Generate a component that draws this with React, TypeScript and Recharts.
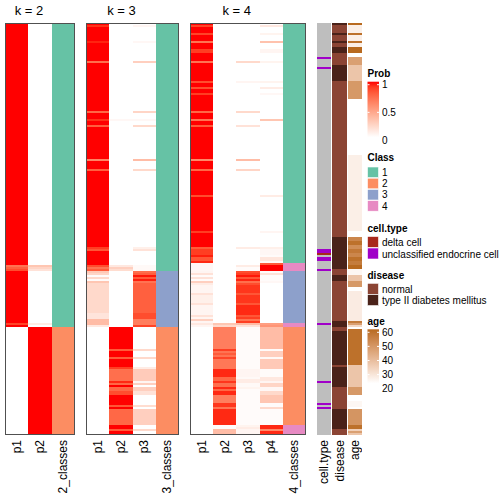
import { BarChart, Bar, XAxis, YAxis, Cell } from 'recharts'

const FONT = '"Liberation Sans", Arial, sans-serif'
const N_ROWS = 206
const TOP = 23
const BODY_H = 412
const AXIS_H = 68

// each step: [first row, value]; the value holds until the next step
type Step = [number, number | null]

// ---- k = 2
const k2P1: Step[] = [[0, 1], [121, 0.7], [122, 0.78], [123, 0.85], [124, 1], [150, 0.88], [151, 1], [152, 0]]
const k2P2: Step[] = [[0, 0], [121, 0.3], [122, 0.22], [123, 0.15], [124, 0], [150, 0.1], [151, 0], [152, 1]]
const k2Class: Step[] = [[0, 1], [152, 2]]

// ---- k = 3
const k3P1: Step[] = [
  [0, 1], [1, 0.93], [2, 1], [9, 0.96], [10, 1], [19, 0.72], [20, 1], [44, 0.75], [45, 1], [48, 0.93], [49, 1],
  [51, 0.78], [52, 1], [68, 0.62], [69, 1], [73, 0.78], [74, 1], [112, 0.9], [113, 0.82], [114, 1],
  [121, 0.85], [122, 0.7], [123, 0.8], [124, 0.28], [125, 0.22], [126, 0.02], [127, 0.2], [128, 0.02],
  [129, 0.3], [130, 0.2], [145, 0.14], [148, 0.35], [151, 0.12], [152, 0],
]
const k3P2: Step[] = [
  [0, 0], [48, 0.04], [49, 0], [121, 0.12], [122, 0.25], [123, 0.18], [124, 0],
  [152, 1], [163, 0.8], [164, 1], [167, 0.8], [168, 1], [172, 0.9], [173, 0.72], [179, 0.95], [180, 0.75],
  [181, 1], [182, 0.75], [184, 0.85], [186, 1], [191, 0.82], [192, 1], [193, 0.75], [201, 1], [203, 0.8], [204, 1],
]
const k3P3: Step[] = [
  [0, 0], [1, 0.05], [2, 0], [9, 0.04], [10, 0], [19, 0.25], [20, 0], [44, 0.22], [45, 0], [48, 0.04], [49, 0],
  [51, 0.2], [52, 0], [68, 0.35], [69, 0], [73, 0.2], [74, 0], [112, 0.08], [113, 0.15], [114, 0], [121, 0.03],
  [124, 0.72], [125, 0.78], [126, 0.98], [127, 0.8], [128, 0.97], [129, 0.7], [130, 0.78], [145, 0.85],
  [148, 0.65], [151, 0.88], [152, 0], [163, 0.2], [164, 0], [167, 0.2], [168, 0], [172, 0.1], [173, 0.27],
  [179, 0.05], [180, 0.25], [181, 0], [182, 0.25], [184, 0.15], [186, 0], [191, 0.18], [192, 0], [193, 0.25],
  [201, 0], [203, 0.2], [204, 0],
]
const k3Class: Step[] = [[0, 1], [124, 3], [152, 2]]

// ---- k = 4
const k4P1: Step[] = [
  [0, 1], [1, 0.88], [2, 1], [5, 0.88], [6, 1], [9, 0.7], [10, 1], [13, 0.9], [15, 1], [19, 0.7], [20, 1],
  [29, 0.85], [30, 1], [32, 0.85], [33, 1], [35, 0.9], [36, 1], [44, 0.75], [45, 1], [48, 0.7], [49, 1],
  [51, 0.8], [52, 1], [68, 0.6], [69, 1], [73, 0.75], [74, 1], [86, 0.85], [87, 1], [104, 0.9], [105, 1],
  [112, 0.8], [113, 0.9], [116, 0.97], [117, 0.82], [119, 0.95], [120, 0.04], [124, 0.05], [125, 0.15],
  [126, 0.02], [127, 0.15], [128, 0.02], [129, 0.25], [130, 0.1], [131, 0.05], [135, 0.15], [136, 0.08],
  [140, 0.15], [141, 0.05], [146, 0.15], [147, 0.05], [148, 0.25], [149, 0.05], [150, 0.12], [151, 0.05], [152, 0],
]
const k4P2: Step[] = [
  [0, 0], [150, 0.3], [151, 0.2], [152, 0.65], [163, 0.9], [164, 0.7], [165, 0.8], [166, 0.7], [167, 0.88],
  [168, 0.68], [173, 0.95], [177, 0.75], [179, 0.92], [180, 0.72], [182, 0.95], [183, 0.75], [184, 0.95],
  [186, 0.65], [190, 0.92], [192, 0.7], [193, 0.95], [201, 0.02], [203, 0.35],
]
const k4P3: Step[] = [
  [0, 0], [19, 0.2], [20, 0], [29, 0.05], [30, 0], [44, 0.2], [45, 0], [51, 0.15], [52, 0], [68, 0.35], [69, 0],
  [73, 0.22], [74, 0], [112, 0.1], [113, 0], [121, 0.1], [122, 0.02], [124, 0.85], [125, 0.9], [126, 0.98],
  [127, 0.82], [128, 0.96], [129, 0.72], [130, 0.85], [131, 0.92], [135, 0.82], [136, 0.92], [140, 0.82],
  [141, 0.95], [146, 0.82], [147, 0.9], [148, 0.7], [149, 0.9], [150, 0.35], [151, 0.15], [152, 0.02],
  [173, 0.05], [177, 0.03], [178, 0.1], [180, 0.03], [182, 0.06], [183, 0.02], [201, 0.06], [202, 0.1], [203, 0.05],
]
const k4P4: Step[] = [
  [0, 0], [1, 0.12], [2, 0], [5, 0.06], [6, 0], [9, 0.32], [10, 0], [13, 0.05], [15, 0], [19, 0.06], [20, 0],
  [29, 0.06], [30, 0], [32, 0.1], [33, 0], [35, 0.04], [36, 0], [48, 0.3], [49, 0], [86, 0.1], [87, 0],
  [104, 0.05], [105, 0], [112, 0.08], [113, 0.04], [116, 0.02], [117, 0.13], [119, 0.03], [120, 0.8], [121, 1],
  [124, 0.02], [125, 0.15], [126, 0.02], [129, 0.04], [130, 0], [150, 0.5], [151, 0.55], [152, 0.35],
  [163, 0.02], [164, 0.25], [167, 0.03], [168, 0.28], [173, 0.02], [177, 0.12], [179, 0.05], [180, 0.22],
  [182, 0.04], [184, 0.2], [186, 0.3], [190, 0.02], [192, 0.2], [193, 0.02], [201, 0.95], [203, 0.6], [204, 0.95],
]
const k4Class: Step[] = [[0, 1], [120, 4], [124, 3], [150, 4], [152, 2], [201, 4]]

// ---- annotations
// cell.type: 0 = other (grey), 1 = delta cell, 2 = unclassified endocrine cell
const cellType: Step[] = [
  [0, 0], [17, 2], [18, 0], [22, 2], [23, 0], [113, 2], [115, 1], [116, 0], [117, 2], [119, 0],
  [123, 2], [124, 0], [150, 2], [151, 0], [179, 2], [180, 0], [190, 2], [191, 0], [192, 2], [193, 0],
]
// disease: 0 = normal, 1 = type II diabetes mellitus
const disease: Step[] = [
  [0, 1], [1, 0], [5, 1], [6, 0], [9, 1], [10, 0], [12, 1], [15, 0], [21, 1], [29, 0], [107, 1], [123, 0],
  [126, 1], [129, 0], [149, 1], [152, 0], [154, 1], [171, 0], [172, 1], [182, 0], [193, 1], [203, 0],
]
const age: Step[] = [
  [0, 60], [1, 24], [5, 58], [6, 24], [9, 58], [10, 24], [12, 60], [15, null], [17, 45], [21, 35], [29, 47],
  [38, null], [66, 24], [104, null], [107, 52], [109, 58], [111, 50], [113, 56], [115, 52], [117, 58],
  [119, 55], [121, 60], [123, 22], [126, 35], [129, 47], [132, null], [134, 25], [149, 55], [150, 45],
  [151, 30], [152, null], [153, 58], [171, 35], [182, 47], [186, null], [189, 22], [192, null], [193, 48],
  [201, 58], [203, 32], [204, 45], [205, 35],
]

const k2Names = ['p1', 'p2', '2_classes']
const k3Names = ['p1', 'p2', 'p3', '3_classes']
const k4Names = ['p1', 'p2', 'p3', 'p4', '4_classes']
const annNames = ['cell.type', 'disease', 'age']
const classLevels = ['1', '2', '3', '4']
const cellTypeLevels = ['delta cell', 'unclassified endocrine cell']
const diseaseLevels = ['normal', 'type II diabetes mellitus']
const probTicks = ['1', '0.5', '0']
const ageTicks = ['60', '50', '40', '30', '20']

const CLASS_COLORS: Record<number, string> = { 1: '#66C2A5', 2: '#FC8D62', 3: '#8DA0CB', 4: '#E78AC3' }
const CELLTYPE_COLORS = ['#BEBEBE', '#A8281C', '#A000C8']
const DISEASE_COLORS = ['#8B4434', '#4A2219']
const AGE_HIGH = '#B86A1F'

function expand(steps: Step[]) {
  const out: (number | null)[] = []
  let j = 0
  for (let r = 0; r < N_ROWS; r++) {
    while (j + 1 < steps.length && steps[j + 1][0] <= r) j++
    out.push(steps[j][1])
  }
  return out
}

// Lab interpolation, like colorRamp2
function toLab(hex: string) {
  const n = parseInt(hex.slice(1), 16)
  const [r, g, b] = [(n >> 16) & 255, (n >> 8) & 255, n & 255].map((c) => {
    c /= 255
    return c <= 0.04045 ? c / 12.92 : Math.pow((c + 0.055) / 1.055, 2.4)
  })
  const f = (t: number) => (t > 0.008856 ? Math.cbrt(t) : 7.787 * t + 16 / 116)
  const fx = f((0.4124 * r + 0.3576 * g + 0.1805 * b) / 0.95047)
  const fy = f(0.2126 * r + 0.7152 * g + 0.0722 * b)
  const fz = f((0.0193 * r + 0.1192 * g + 0.9505 * b) / 1.08883)
  return [116 * fy - 16, 500 * (fx - fy), 200 * (fy - fz)]
}
function fromLab([L, a, b]: number[]) {
  const fy = (L + 16) / 116
  const fx = fy + a / 500
  const fz = fy - b / 200
  const inv = (t: number) => (t * t * t > 0.008856 ? t * t * t : (t - 16 / 116) / 7.787)
  const X = 0.95047 * inv(fx), Y = inv(fy), Z = 1.08883 * inv(fz)
  const lin = [
    3.2406 * X - 1.5372 * Y - 0.4986 * Z,
    -0.9689 * X + 1.8758 * Y + 0.0415 * Z,
    0.0557 * X - 0.204 * Y + 1.057 * Z,
  ]
  const rgb = lin.map((c) => {
    const v = c <= 0.0031308 ? 12.92 * c : 1.055 * Math.pow(c, 1 / 2.4) - 0.055
    return Math.round(Math.min(1, Math.max(0, v)) * 255)
  })
  return `rgb(${rgb.join(',')})`
}
function mixLab(a: string, b: string, t: number) {
  const A = toLab(a), B = toLab(b)
  const k = Math.min(1, Math.max(0, t))
  return fromLab(A.map((v, i) => v + (B[i] - v) * k))
}

const probColor = (v: number | null) => mixLab('#FFFFFF', '#FF0000', v ?? 0)
const classColor = (v: number | null) => CLASS_COLORS[v ?? 1]
const ageColor = (v: number | null) => (v == null ? '#FFFFFF' : mixLab('#FFFFFF', AGE_HIGH, (v - 20) / 40))
const cellTypeColor = (v: number | null) => CELLTYPE_COLORS[v ?? 0]
const diseaseColor = (v: number | null) => DISEASE_COLORS[v ?? 0]
const blank = () => '#FFFFFF'

type Column = { key: string; steps: Step[]; color: (v: number | null) => string; span: number }

function NameTick(props: any) {
  const { x, y, payload, names, ticks } = props
  const i = ticks.indexOf(payload.value)
  const ty = y + 3
  return (
    <text x={x} y={ty} transform={`rotate(-90 ${x} ${ty})`} textAnchor="end" dominantBaseline="central"
      fontSize={12} fontFamily={FONT} fill="#000">
      {names[i]}
    </text>
  )
}

function Strip({ left, width, columns, names }: { left: number; width: number; columns: Column[]; names: string[] }) {
  const total = columns.reduce((s, c) => s + c.span, 0)
  const data = Array.from({ length: N_ROWS }, (_, r) => {
    const row: Record<string, number> = { id: r }
    columns.forEach((c) => (row[c.key] = c.span))
    return row
  })
  const ticks: number[] = []
  let acc = 0
  columns.forEach((c) => {
    if (!c.key.startsWith('gap')) ticks.push(acc + c.span / 2)
    acc += c.span
  })
  return (
    <div style={{ position: 'absolute', left, top: TOP }}>
      <BarChart layout="vertical" width={width} height={BODY_H + AXIS_H} data={data}
        margin={{ top: 0, right: 0, bottom: 0, left: 0 }} barCategoryGap={0} barGap={0}>
        <YAxis type="category" dataKey="id" hide />
        <XAxis type="number" domain={[0, total]} ticks={ticks} interval={0} axisLine={false} tickLine={false}
          tickSize={0} height={AXIS_H} tick={(p: any) => <NameTick {...p} names={names} ticks={ticks} />} />
        {columns.map((c) => {
          const vals = expand(c.steps)
          return (
            <Bar key={c.key} dataKey={c.key} stackId="s" isAnimationActive={false}>
              {vals.map((v, i) => (
                <Cell key={i} fill={c.color(v)} />
              ))}
            </Bar>
          )
        })}
      </BarChart>
    </div>
  )
}

const probCols = (steps: Step[][], cls: Step[]): Column[] => [
  ...steps.map((s, i) => ({ key: `p${i + 1}`, steps: s, color: probColor, span: 1 })),
  { key: 'cls', steps: cls, color: classColor, span: 1 },
]

const annCols: Column[] = [
  { key: 'cell', steps: cellType, color: cellTypeColor, span: 14 },
  { key: 'gap1', steps: [[0, null]], color: blank, span: 1 },
  { key: 'dis', steps: disease, color: diseaseColor, span: 15 },
  { key: 'gap2', steps: [[0, null]], color: blank, span: 1 },
  { key: 'age', steps: age, color: ageColor, span: 14 },
]

const LX = 367.5
const labelProps = { fontSize: 10, fontFamily: FONT, fill: '#000', dominantBaseline: 'central' as const }
const titleProps = { fontSize: 10, fontFamily: FONT, fill: '#000', fontWeight: 'bold' as const }

export default function App() {
  const gradStops = Array.from({ length: 11 }, (_, i) => i / 10)
  return (
    <div style={{ position: 'absolute', left: 0, top: 0, width: 504, height: 504, background: '#fff', overflow: 'hidden' }}>
      <style>{'.recharts-rectangle{shape-rendering:crispEdges}'}</style>
      <Strip left={5} width={70} columns={probCols([k2P1, k2P2], k2Class)} names={k2Names} />
      <Strip left={86} width={93} columns={probCols([k3P1, k3P2, k3P3], k3Class)} names={k3Names} />
      <Strip left={190} width={116} columns={probCols([k4P1, k4P2, k4P3, k4P4], k4Class)} names={k4Names} />
      <Strip left={317} width={45} columns={annCols} names={annNames} />
      <svg width={504} height={504} style={{ position: 'absolute', left: 0, top: 0, pointerEvents: 'none' }}>
        <defs>
          <linearGradient id="probGrad" x1="0" y1="0" x2="0" y2="1">
            {gradStops.map((t) => (
              <stop key={t} offset={t} stopColor={probColor(1 - t)} />
            ))}
          </linearGradient>
          <linearGradient id="ageGrad" x1="0" y1="0" x2="0" y2="1">
            {gradStops.map((t) => (
              <stop key={t} offset={t} stopColor={ageColor(60 - 40 * t)} />
            ))}
          </linearGradient>
        </defs>
        {[['k = 2', 29], ['k = 3', 121.5], ['k = 4', 236.7]].map(([t, x]) => (
          <text key={t as string} x={x as number} y={15} textAnchor="middle" fontSize={13} fontFamily={FONT}>{t}</text>
        ))}
        {[[5, 70], [86, 93], [190, 116]].map(([x, w]) => (
          <rect key={x} x={x + 0.5} y={TOP + 0.5} width={w - 1} height={BODY_H - 1} fill="none" stroke="#505050" strokeWidth={1} />
        ))}

        {/* Prob */}
        <text x={LX} y={77} {...titleProps}>Prob</text>
        <rect x={LX} y={81.7} width={11.5} height={55.6} fill="url(#probGrad)" />
        {probTicks.map((t, i) => {
          const y = 84.7 + i * 27.65
          return (
            <g key={t}>
              {i < 2 && <line x1={LX} x2={LX + 2} y1={y} y2={y} stroke="#fff" />}
              {i < 2 && <line x1={LX + 9.5} x2={LX + 11.5} y1={y} y2={y} stroke="#fff" />}
              <text x={382} y={y} {...labelProps}>{t}</text>
            </g>
          )
        })}

        {/* Class */}
        <text x={LX} y={161} {...titleProps}>Class</text>
        {classLevels.map((c, i) => (
          <g key={c}>
            <rect x={LX} y={167 + i * 11.2} width={11} height={10.6} fill={CLASS_COLORS[i + 1]} stroke="#fff" strokeWidth={0.6} />
            <text x={382} y={172.5 + i * 11.2} {...labelProps}>{c}</text>
          </g>
        ))}

        {/* cell.type */}
        <text x={LX} y={232} {...titleProps}>cell.type</text>
        {cellTypeLevels.map((c, i) => (
          <g key={c}>
            <rect x={LX} y={236.5 + i * 11.5} width={11} height={11} fill={CELLTYPE_COLORS[i + 1]} stroke="#fff" strokeWidth={0.6} />
            <text x={382} y={242.3 + i * 11.7} {...labelProps}>{c}</text>
          </g>
        ))}

        {/* disease */}
        <text x={LX} y={279} {...titleProps}>disease</text>
        {diseaseLevels.map((c, i) => (
          <g key={c}>
            <rect x={LX} y={283.3 + i * 11.3} width={11} height={11} fill={DISEASE_COLORS[i]} stroke="#fff" strokeWidth={0.6} />
            <text x={382} y={289 + i * 11.3} {...labelProps}>{c}</text>
          </g>
        ))}

        {/* age */}
        <text x={LX} y={325} {...titleProps}>age</text>
        <rect x={LX} y={329.3} width={11.5} height={54} fill="url(#ageGrad)" />
        {ageTicks.map((t, i) => {
          const y = 332.3 + i * 14.1
          return (
            <g key={t}>
              {i < 4 && <line x1={LX} x2={LX + 2} y1={y} y2={y} stroke="#fff" />}
              {i < 4 && <line x1={LX + 9.5} x2={LX + 11.5} y1={y} y2={y} stroke="#fff" />}
              <text x={382} y={y} {...labelProps}>{t}</text>
            </g>
          )
        })}
      </svg>
    </div>
  )
}
